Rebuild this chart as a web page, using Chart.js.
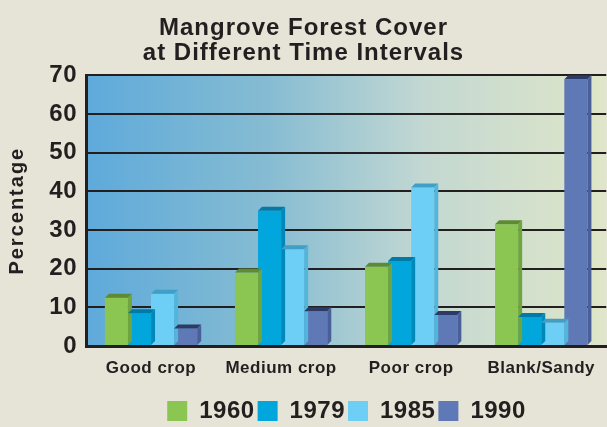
<!DOCTYPE html>
<html>
<head>
<meta charset="utf-8">
<script src="https://cdn.jsdelivr.net/npm/chart.js@4/dist/chart.umd.min.js"></script>
<style>
  html, body { margin: 0; padding: 0; background: #e6e4d6; }
  #wrap { width: 607px; height: 427px; }
</style>
</head>
<body>
<div id="wrap"><canvas id="chart" width="607" height="427"></canvas></div>
<script>
// data
const categories = ['Good crop', 'Medium crop', 'Poor crop', 'Blank/Sandy'];
const years = ['1960', '1979', '1985', '1990'];
const cover1960 = [12.5, 19, 20.5, 31.5];
const cover1979 = [8.5, 35, 22, 7.5];
const cover1985 = [13.5, 25, 41, 6];
const cover1990 = [4.5, 9, 8, 69];
const yTicks = [0, 10, 20, 30, 40, 50, 60, 70];

const colors = ['#8bc653', '#00a6dc', '#6dcff6', '#5f78b6'];
const tops = ['#5d8a33', '#007aa6', '#3f9fc6', '#2c3b66'];
const sides = ['#6fa53e', '#0089b8', '#52b5dc', '#4a5f98'];

const FONT = '"Liberation Sans", Arial, sans-serif';
const INK = '#231f20';

// the original lettering is slightly tracked; the axis title a lot more
function withSpacing(ctx, px, fn) {
  ctx.save();
  ctx.letterSpacing = px;
  fn();
  ctx.restore();
}

const tracking = {
  id: 'tracking',
  beforeLayout(chart) { chart.ctx.letterSpacing = '0.5px'; },
  beforeDraw(chart) { chart.ctx.letterSpacing = '0.5px'; },
  afterLayout(chart) {
    const s = chart.scales.y;
    if (s && !s._wide) {
      const orig = s.drawTitle.bind(s);
      s.drawTitle = () => withSpacing(chart.ctx, '2px', orig);
      s._wide = true;
    }
    const t = chart.titleBlock;
    if (t && !t._wide) {
      const orig = t.draw.bind(t);
      t.draw = () => withSpacing(chart.ctx, '1px', orig);
      t._wide = true;
    }
    // legend sits centred under the plot area, not the whole canvas
    const lg = chart.legend;
    if (lg) {
      const shift = chart.chartArea.left / 2;
      lg.left += shift;
      lg.right += shift;
    }
  }
};

// gradient background behind the plot area
const plotBg = {
  id: 'plotBg',
  beforeDraw(chart) {
    const { ctx, chartArea: a } = chart;
    const g = ctx.createLinearGradient(a.left, 0, a.right, 0);
    g.addColorStop(0, '#5eaadb');
    g.addColorStop(0.35, '#86bcd2');
    g.addColorStop(0.65, '#c3d8d2');
    g.addColorStop(1, '#dfe6c8');
    ctx.save();
    ctx.fillStyle = g;
    ctx.fillRect(a.left, a.top, a.right - a.left, a.bottom - a.top);
    ctx.restore();
  }
};

// fake 3D: top face and right side on each bar
const bar3d = {
  id: 'bar3d',
  afterDatasetsDraw(chart) {
    const ctx = chart.ctx;
    const d = 4;
    chart.data.datasets.forEach((ds, i) => {
      chart.getDatasetMeta(i).data.forEach((bar) => {
        const l = bar.x - bar.width / 2;
        const r = bar.x + bar.width / 2;
        const t = bar.y;
        const b = bar.base;
        ctx.save();
        ctx.fillStyle = tops[i];
        ctx.beginPath();
        ctx.moveTo(l, t);
        ctx.lineTo(l + d, t - d);
        ctx.lineTo(r + d, t - d);
        ctx.lineTo(r, t);
        ctx.closePath();
        ctx.fill();
        ctx.fillStyle = sides[i];
        ctx.beginPath();
        ctx.moveTo(r, t);
        ctx.lineTo(r + d, t - d);
        ctx.lineTo(r + d, b - d);
        ctx.lineTo(r, b);
        ctx.closePath();
        ctx.fill();
        ctx.restore();
      });
    });
  }
};

const seriesValues = [cover1960, cover1979, cover1985, cover1990];

new Chart(document.getElementById('chart'), {
  type: 'bar',
  data: {
    labels: categories,
    datasets: years.map((y, i) => ({
      label: y,
      data: seriesValues[i],
      backgroundColor: colors[i],
      borderWidth: 0,
      categoryPercentage: 0.71,
      barPercentage: 1.0
    }))
  },
  options: {
    responsive: false,
    animation: false,
    layout: { padding: { left: 0, right: 0, top: 0, bottom: -6 } },
    plugins: {
      title: {
        display: true,
        text: ['Mangrove Forest Cover', 'at Different Time Intervals'],
        color: INK,
        font: { family: FONT, size: 24, weight: 'bold', lineHeight: 1.05 },
        padding: { top: 16, bottom: 9 }
      },
      legend: {
        position: 'bottom',
        labels: {
          color: INK,
          font: { family: FONT, size: 24, weight: 'bold', lineHeight: 1.0 },
          boxWidth: 20,
          boxHeight: 20,
          padding: 3
        }
      },
      tooltip: { enabled: false }
    },
    scales: {
      x: {
        grid: { display: false, drawTicks: false },
        border: { color: INK, width: 3 },
        ticks: {
          color: INK,
          font: { family: FONT, size: 17, weight: 'bold' },
          padding: 12
        },
        afterFit(scale) { scale.height = 50; }
      },
      y: {
        min: 0,
        max: 70,
        afterBuildTicks(axis) { axis.ticks = yTicks.map((v) => ({ value: v })); },
        grid: { color: INK, lineWidth: 2, drawTicks: false },
        border: { color: INK, width: 3 },
        ticks: {
          color: INK,
          font: { family: FONT, size: 24, weight: 'bold' },
          padding: 9
        },
        title: {
          display: true,
          text: 'Percentage',
          color: INK,
          font: { family: FONT, size: 20, weight: 'bold' },
          padding: { top: 5, bottom: 4 }
        },
        afterFit(scale) { scale.width = 86; }
      }
    }
  },
  plugins: [tracking, plotBg, bar3d]
});
</script>
</body>
</html>
